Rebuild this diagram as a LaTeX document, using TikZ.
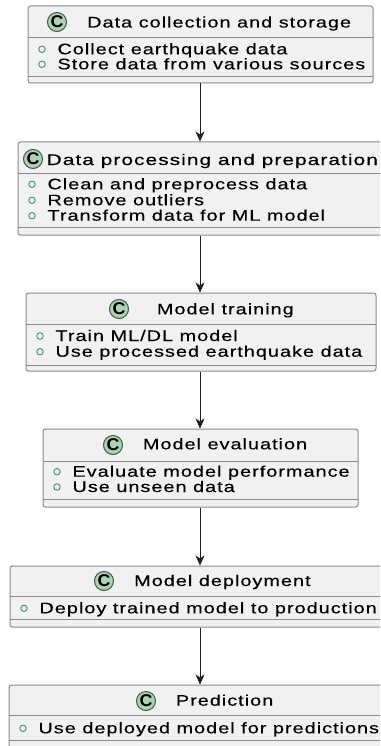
\documentclass[tikz,border=0pt]{standalone}
\usepackage{fontspec}
\setmainfont[FakeStretch=1.3,LetterSpace=6.5,FakeBold=0.3]{Liberation Sans}
\newfontfamily\iconfont[FakeStretch=1.05]{Liberation Sans Bold}
\usetikzlibrary{arrows.meta}
\definecolor{boxfill}{HTML}{F1F1F1}
\definecolor{boxline}{HTML}{8A8A8A}
\definecolor{iconfill}{HTML}{ADD1B2}
\definecolor{iconline}{HTML}{3E5A45}
\definecolor{fieldmark}{HTML}{3F8F72}
\definecolor{linkcol}{HTML}{202020}
\tikzset{
  umlbox/.style={rectangle, draw=boxline, fill=boxfill, line width=1pt,
    rounded corners=2.5pt, inner sep=0pt},
  sepline/.style={draw=boxline, line width=0.9pt},
  cicon/.style={circle, draw=iconline, fill=iconfill, line width=1pt,
    minimum size=19pt, inner sep=0pt, font=\iconfont\fontsize{17}{17}\selectfont},
  ttl/.style={anchor=base west, inner sep=0pt, text=black,
    font=\fontsize{15.3}{16}\selectfont},
  fld/.style={anchor=base west, inner sep=0pt, text=black,
    font=\fontsize{15.3}{16}\selectfont},
  fmark/.style={circle, draw=fieldmark, line width=0.9pt, minimum size=6.5pt,
    inner sep=0pt},
  link/.style={draw=linkcol, line width=1pt,
    -{Stealth[length=10pt,width=9pt,inset=3pt]}}
}
% class box: name, left, right, top, bottom, header rule, body rule
\newcommand\classbox[7]{%
  \pgfmathsetmacro\cbx{(#2+#3)/2}%
  \pgfmathsetmacro\cby{(#4+#5)/2}%
  \pgfmathsetmacro\cbw{#3-#2}%
  \pgfmathsetmacro\cbh{#5-#4}%
  \node[umlbox, minimum width=\cbw pt, minimum height=\cbh pt] (#1) at (\cbx,\cby) {};
  \draw[sepline] (#2,#6) -- (#3,#6);
  \draw[sepline] (#2,#7) -- (#3,#7);
}
% field line: name, left edge of box, baseline, text
\newcommand\classfield[4]{%
  \node[fmark] (#1m) at ({#2+14},{#3-5}) {};
  \node[fld] (#1) at ({#2+29.3},#3) {#4};
}
\begin{document}
\begin{tikzpicture}[x=1pt,y=-1pt]
\useasboundingbox (0,0) rectangle (380,746);
\clip (0,0) rectangle (380,746);
\fill[white] (0,0) rectangle (380,746);

% Data collection and storage
\classbox{b1}{28}{373}{6}{83}{37}{76}
\node[cicon] (c1) at (57,22) {C};
\node[ttl] (t1) at (87,27.5) {Data collection and storage};
\classfield{f11}{28}{54.3}{Collect earthquake data}
\classfield{f12}{28}{69.3}{Store data from various sources}

% Data processing and preparation
\classbox{b2}{18}{395}{142}{235}{173}{227}
\node[cicon] (c2) at (33,159) {C};
\node[ttl] (t2) at (46.5,165) {\scalebox{1.05}[1]{Data processing and preparation}};
\classfield{f21}{18}{189.3}{Clean and preprocess data}
\classfield{f22}{18}{205.3}{Remove outliers}
\classfield{f23}{18}{220.7}{Transform data for ML model}

% Model training
\classbox{b3}{26}{376}{293}{371}{324}{365}
\node[cicon] (c3) at (119,309) {C};
\node[ttl] (t3) at (156.7,314.3) {Model training};
\classfield{f31}{26}{341}{Train ML/DL model}
\classfield{f32}{26}{356.7}{Use processed earthquake data}

% Model evaluation
\classbox{b4}{43}{358}{429}{507}{461}{499}
\node[cicon] (c4) at (113,445) {C};
\node[ttl] (t4) at (142.7,449.3) {Model evaluation};
\classfield{f41}{43}{476.7}{Evaluate model performance}
\classfield{f42}{43}{492}{Use unseen data}

% Model deployment
\classbox{b5}{10}{395}{566}{627}{596}{619}
\node[cicon] (c5) at (104,581) {C};
\node[ttl] (t5) at (134,586) {Model deployment};
\classfield{f51}{10}{613.3}{Deploy trained model to production}

% Prediction
\classbox{b6}{9}{395}{685}{765}{715.5}{740}
\node[cicon] (c6) at (146,701) {C};
\node[ttl] (t6) at (175.7,705.7) {Prediction};
\classfield{f61}{9}{733.3}{Use deployed model for predictions}

% flow links
\coordinate (ax) at (200,0);
\draw[link] (b1.south -| ax) -- (b2.north -| ax);
\draw[link] (b2.south -| ax) -- (b3.north -| ax);
\draw[link] (b3.south -| ax) -- (b4.north -| ax);
\draw[link] (b4.south -| ax) -- (b5.north -| ax);
\draw[link] (b5.south -| ax) -- (b6.north -| ax);
\end{tikzpicture}
\end{document}
